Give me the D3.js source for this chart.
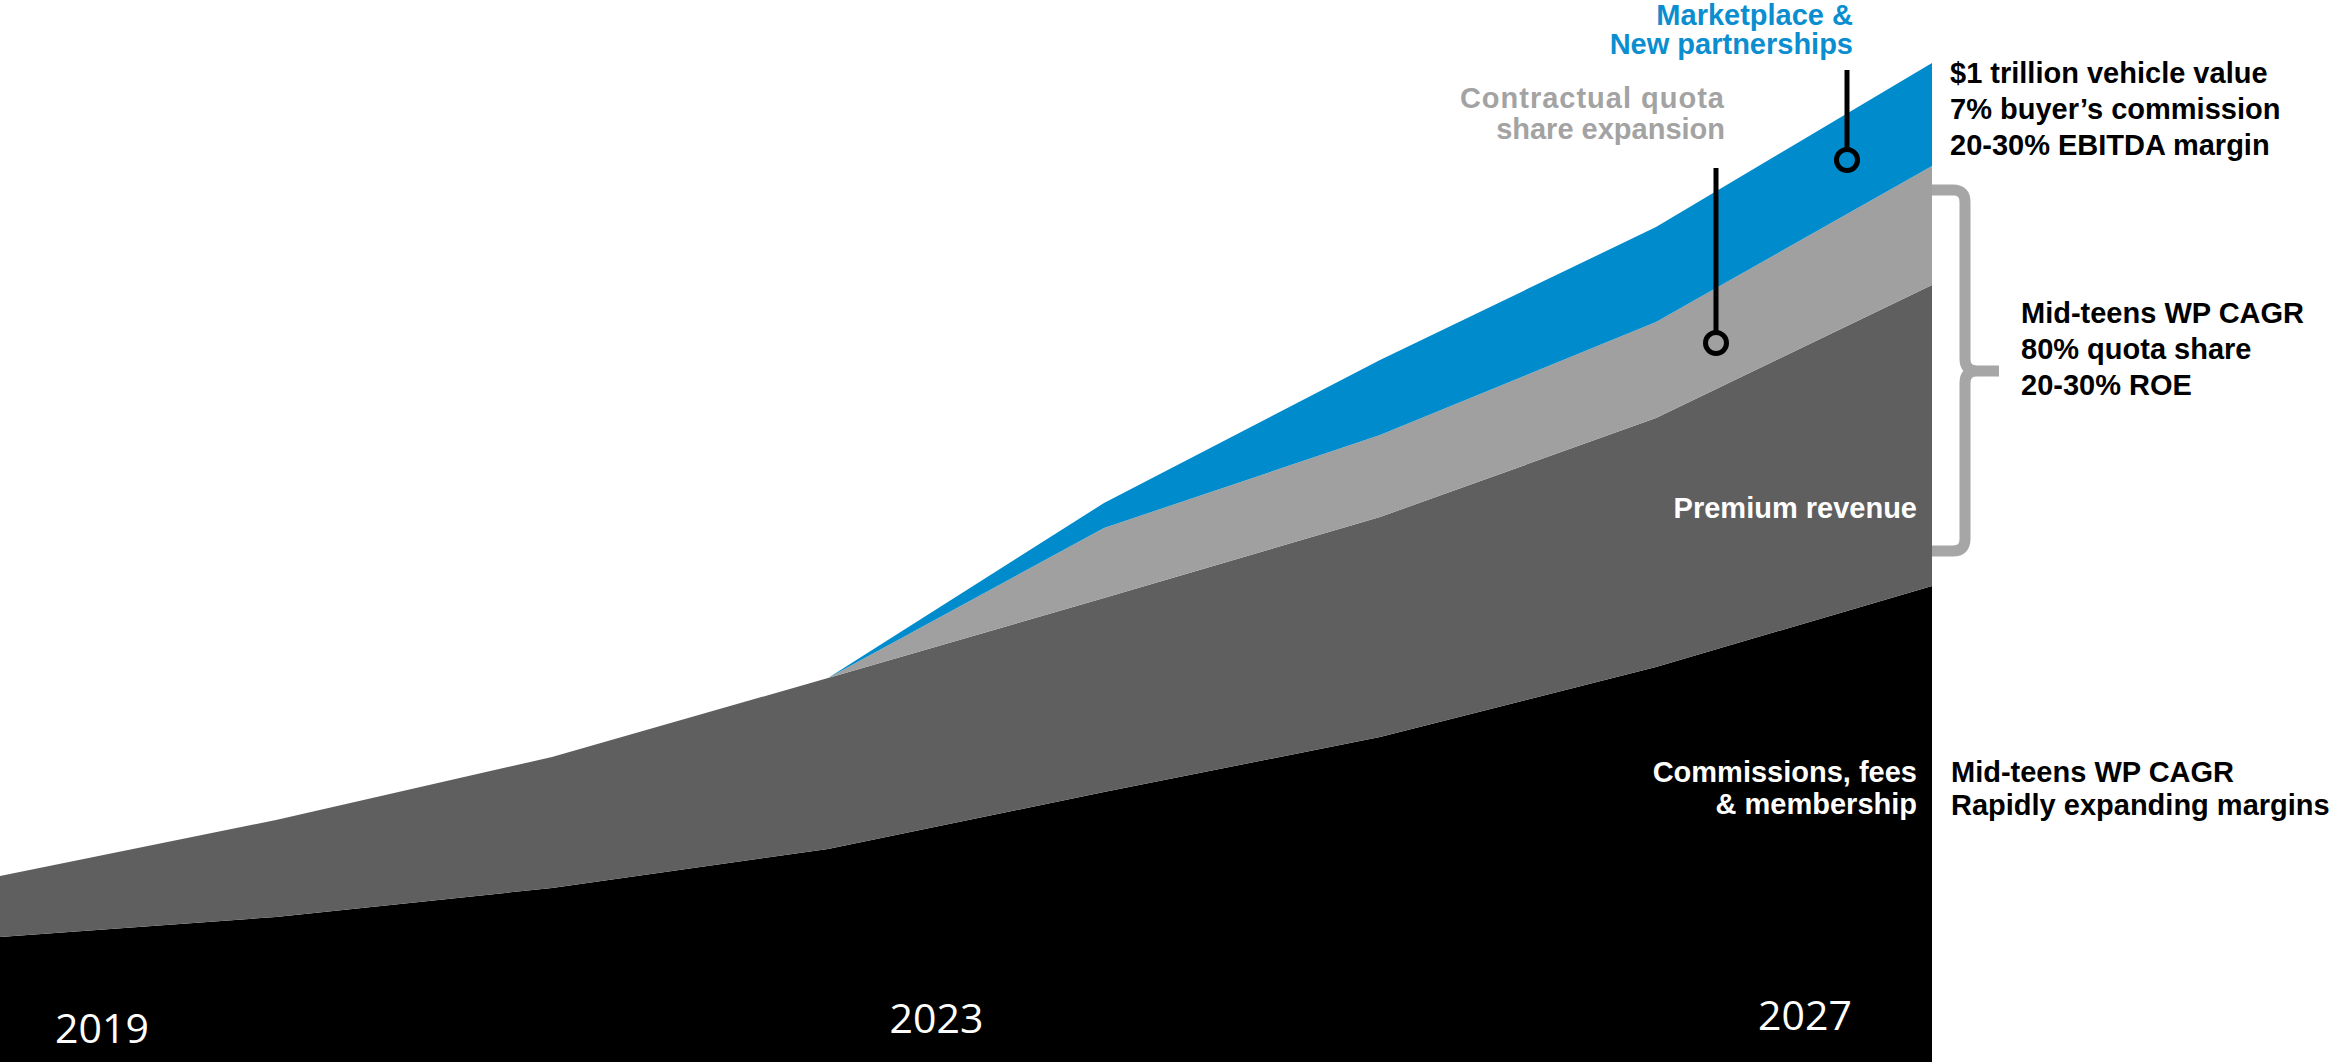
<!DOCTYPE html>
<html>
<head>
<meta charset="utf-8">
<script src="https://cdn.jsdelivr.net/npm/d3@7"></script>
<style>
  body { margin: 0; background: #ffffff; }
  svg { display: block; }
</style>
</head>
<body>
<svg id="chart"></svg>
<script>
// data points along the x axis (8 steps from 2019 to 2027)
var periods = ['p0', 'p1', 'p2', 'p3', 'p4', 'p5', 'p6', 'p7'];
var seriesKeys = ['commissions', 'premium', 'contractual', 'marketplace'];
var commissions = [125, 145, 174, 213, 270, 325, 395, 476];
var premium = [61, 97, 131, 171, 194, 220, 249, 301];
var contractual = [0, 0, 0, 0, 70, 82, 96, 119];
var marketplace = [0, 0, 0, 0, 25, 75, 95, 103];
var yearLabels = [2019, 2023, 2027];

var width = 2336;
var height = 1062;
var plotRight = 1932;

var colors = {
  commissions: '#000000',
  premium: '#5f5f5f',
  contractual: '#a0a0a0',
  marketplace: '#008ccc'
};

var rows = periods.map(function(p, i) {
  return {
    period: p,
    commissions: commissions[i],
    premium: premium[i],
    contractual: contractual[i],
    marketplace: marketplace[i]
  };
});

var svg = d3.select('#chart')
  .attr('width', width)
  .attr('height', height);

var xScale = d3.scalePoint()
  .domain(periods)
  .range([0, plotRight]);
var yScale = d3.scaleLinear()
  .domain([0, 1000])
  .range([height, 62]);
var yearScale = d3.scaleLinear()
  .domain([2019, 2027])
  .range([102, 1805]);

var stacked = d3.stack().keys(seriesKeys)(rows);

var area = d3.area()
  .x(function(d) { return xScale(d.data.period); })
  .y0(function(d) { return yScale(d[0]); })
  .y1(function(d) { return yScale(d[1]); });

//Draw stacked areas
svg.append('g')
  .selectAll('path')
  .data(stacked)
  .enter()
  .append('path')
  .attr('d', area)
  .style('fill', function(d) { return colors[d.key]; });

//Year labels (text boxes sit a little off the even spacing)
var yearNudge = { 2019: [0, 1043], 2023: [-17, 1033], 2027: [0, 1030] };
svg.append('g')
  .selectAll('text')
  .data(yearLabels)
  .enter()
  .append('text')
  .attr('x', function(d) { return yearScale(d) + yearNudge[d][0]; })
  .attr('y', function(d) { return yearNudge[d][1]; })
  .attr('text-anchor', 'middle')
  .style('font-family', 'Open Sans')
  .style('font-size', '41px')
  .style('fill', '#ffffff')
  .text(function(d) { return d; });

function multiline(g, lines, x, y, lineGap, anchor, color) {
  var t = g.append('text')
    .attr('x', x)
    .attr('y', y)
    .attr('text-anchor', anchor)
    .style('font-family', 'Liberation Sans, Arial, sans-serif')
    .style('font-weight', 'bold')
    .style('font-size', '29px')
    .style('fill', color);
  lines.forEach(function(line, i) {
    t.append('tspan')
      .attr('x', x)
      .attr('y', y + i * lineGap)
      .text(line);
  });
  return t;
}

var notes = svg.append('g');

// labels inside the chart
multiline(notes, ['Marketplace &', 'New partnerships'], 1853, 25, 29, 'end', '#0a8ecf');
multiline(notes, ['Contractual quota', 'share expansion'], 1725, 108, 31, 'end', '#a3a3a3')
  .select('tspan')
  .style('letter-spacing', '1px');
multiline(notes, ['Premium revenue'], 1917, 518, 31, 'end', '#ffffff');
multiline(notes, ['Commissions, fees', '& membership'], 1917, 782, 32, 'end', '#ffffff');

// labels on the right
multiline(notes, ['$1 trillion vehicle value', '7% buyer\u2019s commission', '20-30% EBITDA margin'], 1950, 83, 36, 'start', '#000000');
multiline(notes, ['Mid-teens WP CAGR', '80% quota share', '20-30% ROE'], 2021, 323, 36, 'start', '#000000');
multiline(notes, ['Mid-teens WP CAGR', 'Rapidly expanding margins'], 1951, 782, 33, 'start', '#000000');

// callout pins
var pins = [
  { x: 1847, top: 70, cy: 160 },
  { x: 1716, top: 168, cy: 343 }
];
var r = 10.5;
pins.forEach(function(p) {
  notes.append('line')
    .attr('x1', p.x).attr('x2', p.x)
    .attr('y1', p.top).attr('y2', p.cy - r)
    .style('stroke', '#000000')
    .style('stroke-width', 5);
  notes.append('circle')
    .attr('cx', p.x)
    .attr('cy', p.cy)
    .attr('r', r)
    .style('fill', 'none')
    .style('stroke', '#000000')
    .style('stroke-width', 5);
});

// curly bracket
var bTop = 190, bMid = 371, bBot = 551, bx = 1965, bTip = 1999;
var bracket = d3.path();
bracket.moveTo(plotRight, bTop);
bracket.lineTo(bx - 12, bTop);
bracket.quadraticCurveTo(bx, bTop, bx, bTop + 12);
bracket.lineTo(bx, bMid - 12);
bracket.quadraticCurveTo(bx, bMid, bx + 12, bMid);
bracket.lineTo(bTip, bMid);
bracket.moveTo(bx + 12, bMid);
bracket.quadraticCurveTo(bx, bMid, bx, bMid + 12);
bracket.lineTo(bx, bBot - 12);
bracket.quadraticCurveTo(bx, bBot, bx - 12, bBot);
bracket.lineTo(plotRight, bBot);
notes.append('path')
  .attr('d', bracket.toString())
  .style('fill', 'none')
  .style('stroke', '#a6a6a6')
  .style('stroke-width', 11);
</script>
</body>
</html>
